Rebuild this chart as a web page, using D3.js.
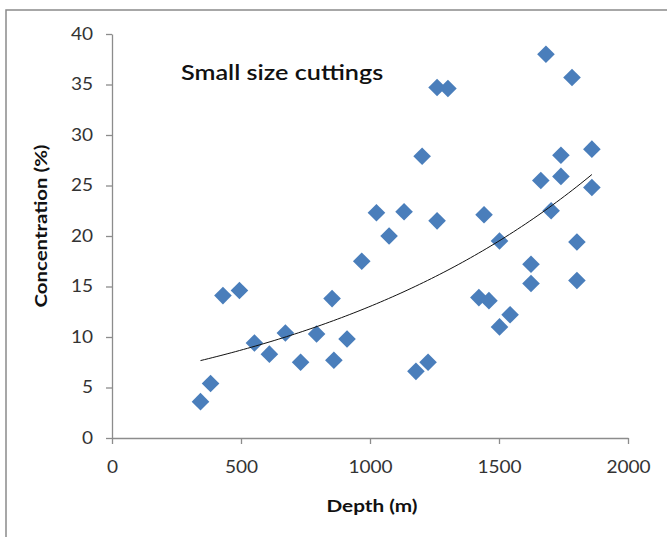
<!DOCTYPE html>
<html>
<head>
<meta charset="utf-8">
<script src="https://cdn.jsdelivr.net/npm/d3@7"></script>
<style>
  html, body { margin: 0; padding: 0; background: #fff; }
  svg { display: block; }
  text { font-family: Lato, "Open Sans", sans-serif; }
</style>
</head>
<body>
<svg id="chart" width="667" height="537"></svg>
<script>
// ---- data ----
const depth = [343, 382, 430, 494, 552, 610, 672, 731, 793, 853, 860, 911, 968, 1025, 1074, 1132,
               1178, 1202, 1225, 1260, 1260, 1302, 1422, 1442, 1461, 1502, 1502, 1543, 1624, 1624,
               1662, 1682, 1702, 1740, 1740, 1783, 1802, 1802, 1860, 1860];
const concentration = [3.6, 5.4, 14.1, 14.6, 9.4, 8.3, 10.4, 7.5, 10.3, 13.8, 7.7, 9.8, 17.5, 22.3, 20.0, 22.4,
               6.6, 27.9, 7.5, 34.7, 21.5, 34.6, 13.9, 22.1, 13.6, 19.5, 11.0, 12.2, 17.2, 15.3,
               25.5, 38.0, 22.5, 28.0, 25.9, 35.7, 19.4, 15.6, 28.6, 24.8];
const xTicks = [0, 500, 1000, 1500, 2000];
const yTicks = [0, 5, 10, 15, 20, 25, 30, 35, 40];
const chartTitle = "Small size cuttings";
const xTitle = "Depth (m)";
const yTitle = "Concentration (%)";

const svg = d3.select("#chart");
const x = d3.scaleLinear().domain([0, 2000]).range([112, 628]);
const y = d3.scaleLinear().domain([0, 40]).range([438, 34]);
const axisColor = "#8c8c8c";
const textColor = "#333";

// stretch text horizontally (reference glyphs are wider than the available fonts)
function stretch(sel, f) {
  sel.each(function () {
    const w = this.getComputedTextLength();
    d3.select(this).attr("textLength", w * f).attr("lengthAdjust", "spacingAndGlyphs");
  });
}

// outer chart frame (only left and top visible)
svg.append("path").attr("d", "M6,537V10H667").attr("fill", "none")
  .attr("stroke", "#8a8a8a").attr("stroke-width", 1.5);

// axes
const xAxis = svg.append("g").attr("transform", `translate(0,${y(0)})`)
  .call(d3.axisBottom(x).tickValues(xTicks).tickSize(6).tickSizeOuter(0).tickPadding(17).tickFormat(d3.format("d")));
const yAxis = svg.append("g").attr("transform", `translate(${x(0)},0)`)
  .call(d3.axisLeft(y).tickValues(yTicks).tickSize(6).tickSizeOuter(0).tickPadding(13).tickFormat(d3.format("d")));
[xAxis, yAxis].forEach(g => {
  g.select(".domain").attr("stroke", axisColor).attr("stroke-width", 1.3);
  g.selectAll(".tick line").attr("stroke", axisColor).attr("stroke-width", 1.3);
  g.selectAll(".tick text").attr("fill", textColor).style("font-size", "17px")
    .style("font-family", "Lato, 'Open Sans', sans-serif")
    .call(stretch, 1.12);
});

// points (diamonds)
const diamond = d3.symbol().type(d3.symbolSquare).size(155);
svg.append("g").selectAll("path").data(depth.map((d, i) => [d, concentration[i]]))
  .join("path")
  .attr("d", diamond)
  .attr("transform", d => `translate(${x(d[0])},${y(d[1])}) rotate(45)`)
  .attr("fill", "#4a7ebb");

// exponential trendline fitted to the data (least squares on ln y)
const n = depth.length;
const ly = concentration.map(Math.log);
const mx = d3.mean(depth), my = d3.mean(ly);
let sxy = 0, sxx = 0;
for (let i = 0; i < n; i++) { sxy += (depth[i] - mx) * (ly[i] - my); sxx += (depth[i] - mx) ** 2; }
const b = sxy / sxx, a = Math.exp(my - b * mx);
const [xmin, xmax] = d3.extent(depth);
const trend = d3.range(0, 101).map(k => { const xv = xmin + (xmax - xmin) * k / 100; return [xv, a * Math.exp(b * xv)]; });
svg.append("path").datum(trend)
  .attr("d", d3.line().x(d => x(d[0])).y(d => y(d[1])))
  .attr("fill", "none").attr("stroke", "#111").attr("stroke-width", 1);

// titles
svg.append("text").attr("x", 181).attr("y", 80).text(chartTitle)
  .style("font-size", "21px").style("font-weight", 600).attr("fill", "#111")
  .call(stretch, 1.2);
svg.append("text").attr("x", 372).attr("y", 512).attr("text-anchor", "middle").text(xTitle)
  .style("font-size", "17px").style("font-weight", 700).attr("fill", "#111")
  .call(stretch, 1.22);
svg.append("text").attr("transform", "translate(47,226) rotate(-90)").attr("text-anchor", "middle").text(yTitle)
  .style("font-size", "17px").style("font-weight", 700).attr("fill", "#111")
  .call(stretch, 1.2);
</script>
</body>
</html>
